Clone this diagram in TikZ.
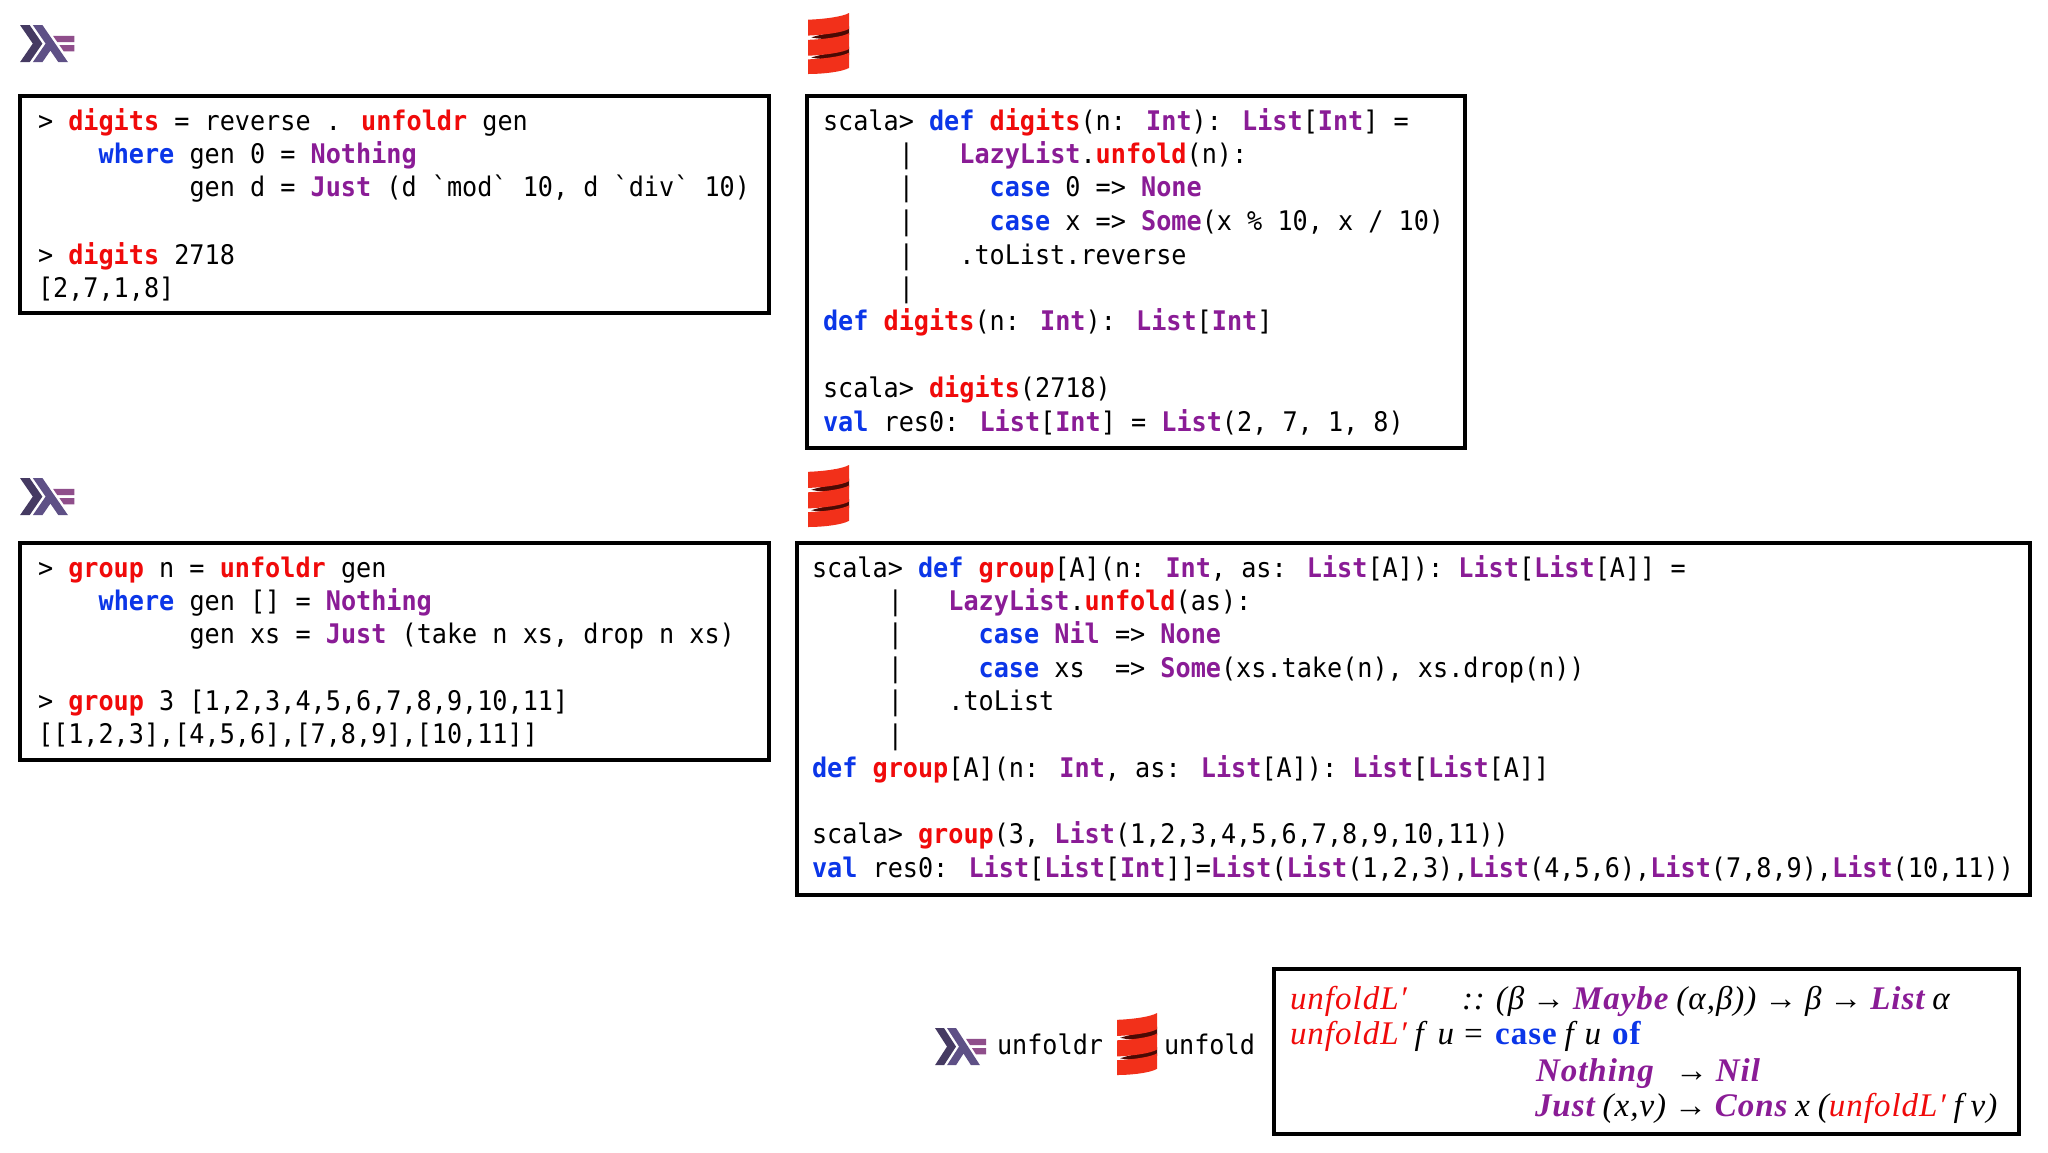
\documentclass[tikz,border=0pt]{standalone}
\usepackage{fontspec}
\usepackage{xcolor}
\newfontfamily\codefont[FakeStretch=0.932]{DejaVu Sans Mono}
\newfontfamily\mathserif[LetterSpace=3,WordSpace=0.85]{Liberation Serif}
\definecolor{fnred}{HTML}{F00A0A}
\definecolor{kwblue}{HTML}{0B36E8}
\definecolor{typurple}{HTML}{8A1C96}
\definecolor{hdark}{HTML}{453A62}
\definecolor{hmid}{HTML}{5E5086}
\definecolor{hlight}{HTML}{8F4E8B}
\definecolor{sred}{HTML}{F2301A}
\definecolor{sdark}{HTML}{4A0A04}
\newcommand{\fn}[1]{\textcolor{fnred}{\bfseries #1}}
\newcommand{\kw}[1]{\textcolor{kwblue}{\bfseries #1}}
\newcommand{\ty}[1]{\textcolor{typurple}{\bfseries #1}}
\newcommand{\mfn}[1]{\textcolor{fnred}{\itshape #1}}
\newcommand{\mkw}[1]{\textcolor{kwblue}{\bfseries\upshape #1}}
\newcommand{\mty}[1]{\textcolor{typurple}{\bfseries\itshape #1}}
\tikzset{
  codebox/.style={draw=black,line width=3.5pt,fill=white,anchor=north west,inner sep=0pt,outer sep=0pt},
  code/.style={anchor=base west,inner sep=0pt,outer sep=0pt,font=\codefont\fontsize{27}{33}\selectfont,text=black},
  mline/.style={anchor=base west,inner sep=0pt,outer sep=0pt,font=\mathserif\itshape\fontsize{33}{36}\selectfont,text=black},
  hask/.pic={
    \fill[hdark] (0,12)--(4,6)--(0,0)--(3,0)--(7,6)--(3,12)--cycle;
    \fill[hmid] (4,12)--(8,6)--(4,0)--(7,0)--(15,12)--(12,12)--(9.5,8.25)--(7,12)--cycle;
    \fill[hlight] (13.667,8.5)--(12.333,6.5)--(17,6.5)--(17,8.5)--cycle;
    \fill[hlight] (11.667,5.5)--(10.333,3.5)--(17,3.5)--(17,5.5)--cycle;
  },
  scal/.pic={
    \fill[sdark] (0.08,.40) .. controls (.4,.33) and (.85,.30) .. (1,.22) -- (1,.36) .. controls (.85,.42) and (.4,.45) .. (0.08,.40) -- cycle;
    \fill[sdark] (0.08,.73) .. controls (.4,.66) and (.85,.63) .. (1,.55) -- (1,.69) .. controls (.85,.75) and (.4,.78) .. (0.08,.73) -- cycle;
    \fill[sred] (0,.11) .. controls (.4,.10) and (.85,.06) .. (1,0) -- (1,.26) .. controls (.85,.32) and (.4,.36) .. (0,.37) -- cycle;
    \fill[sred] (0,.44) .. controls (.4,.43) and (.85,.39) .. (1,.33) -- (1,.59) .. controls (.85,.65) and (.4,.69) .. (0,.70) -- cycle;
    \fill[sred] (0,.76) .. controls (.4,.75) and (.85,.71) .. (1,.65) -- (1,.90) .. controls (.85,.96) and (.4,1) .. (0,1) -- cycle;
  }
}
\begin{document}
\begin{tikzpicture}[x=1pt,y=-1pt]
\useasboundingbox (0,0) rectangle (2048,1152);
\fill[white] (0,0) rectangle (2048,1152);
% logos
\pic[xscale=3.2,yscale=3.1] at (20,25) {hask};
\pic[xscale=41,yscale=61] at (808,13) {scal};
\pic[xscale=3.2,yscale=3.1] at (20,478) {hask};
\pic[xscale=41,yscale=62] at (808,465) {scal};
\pic[xscale=3,yscale=3.1] at (935,1028) {hask};
\pic[xscale=40,yscale=62] at (1117,1013) {scal};
% boxes
\node[codebox,minimum width=749pt,minimum height=217pt] (b1) at (20,96) {};
\node[codebox,minimum width=658pt,minimum height=352pt] (b2) at (807,96) {};
\node[codebox,minimum width=749pt,minimum height=217pt] (b3) at (20,543) {};
\node[codebox,minimum width=1233pt,minimum height=352pt] (b4) at (797,543) {};
\node[codebox,minimum width=745pt,minimum height=165pt] (b5) at (1274,969) {};
% box 1
\node[code] (a1) at (38,130) {> \fn{digits} = reverse . \fn{unfoldr} gen};
\node[code] (a2) at (38,163) {~~~~\kw{where} gen 0 = \ty{Nothing}};
\node[code] (a3) at (38,196) {~~~~~~~~~~gen d = \ty{Just} (d `mod` 10, d `div` 10)};
\node[code] (a4) at (38,264) {> \fn{digits} 2718};
\node[code] (a5) at (38,297) {[2,7,1,8]};
% box 2
\node[code] (c1) at (823,130) {scala> \kw{def} \fn{digits}(n: \ty{Int}): \ty{List}[\ty{Int}] =};
\node[code] (c2) at (823,163) {~~~~~|~~~\ty{LazyList}.\fn{unfold}(n):};
\node[code] (c3) at (823,196) {~~~~~|~~~~~\kw{case} 0 => \ty{None}};
\node[code] (c4) at (823,230) {~~~~~|~~~~~\kw{case} x => \ty{Some}(x \% 10, x / 10)};
\node[code] (c5) at (823,264) {~~~~~|~~~.toList.reverse};
\node[code] (c6) at (823,297) {~~~~~|};
\node[code] (c7) at (823,330) {\kw{def} \fn{digits}(n: \ty{Int}): \ty{List}[\ty{Int}]};
\node[code] (c8) at (823,397) {scala> \fn{digits}(2718)};
\node[code] (c9) at (823,431) {\kw{val} res0: \ty{List}[\ty{Int}] = \ty{List}(2, 7, 1, 8)};
% box 3
\node[code] (d1) at (38,577) {> \fn{group} n = \fn{unfoldr} gen};
\node[code] (d2) at (38,610) {~~~~\kw{where} gen [] = \ty{Nothing}};
\node[code] (d3) at (38,643) {~~~~~~~~~~gen xs = \ty{Just} (take n xs, drop n xs)};
\node[code] (d4) at (38,710) {> \fn{group} 3 [1,2,3,4,5,6,7,8,9,10,11]};
\node[code] (d5) at (38,743) {[[1,2,3],[4,5,6],[7,8,9],[10,11]]};
% box 4
\node[code] (e1) at (812,577) {scala> \kw{def} \fn{group}[A](n: \ty{Int}, as: \ty{List}[A]): \ty{List}[\ty{List}[A]] =};
\node[code] (e2) at (812,610) {~~~~~|~~~\ty{LazyList}.\fn{unfold}(as):};
\node[code] (e3) at (812,643) {~~~~~|~~~~~\kw{case} \ty{Nil} => \ty{None}};
\node[code] (e4) at (812,677) {~~~~~|~~~~~\kw{case} xs~~=> \ty{Some}(xs.take(n), xs.drop(n))};
\node[code] (e5) at (812,710) {~~~~~|~~~.toList};
\node[code] (e6) at (812,744) {~~~~~|};
\node[code] (e7) at (812,777) {\kw{def} \fn{group}[A](n: \ty{Int}, as: \ty{List}[A]): \ty{List}[\ty{List}[A]]};
\node[code] (e8) at (812,843) {scala> \fn{group}(3, \ty{List}(1,2,3,4,5,6,7,8,9,10,11))};
\node[code] (e9) at (812,877) {\kw{val} res0: \ty{List}[\ty{List}[\ty{Int}]]=\ty{List}(\ty{List}(1,2,3),\ty{List}(4,5,6),\ty{List}(7,8,9),\ty{List}(10,11))};
% bottom labels
\node[code] (u1) at (997,1054) {unfoldr};
\node[code] (u2) at (1164,1054) {unfold};
% box 5
\node[mline] (f1) at (1290,1009) {\mfn{unfoldL′}};
\node[mline] (f1b) at (1462,1009) {:: (β → \mty{Maybe} (α,β)) → β → \mty{List} α};
\node[mline] (f2) at (1290,1044) {\mfn{unfoldL′} f\hspace{6pt} u = \hspace{3pt}\mkw{case} f\hspace{3pt} u\hspace{3pt} \mkw{of}};
\node[mline] (f3) at (1536,1081) {\mty{Nothing}};
\node[mline] (f3b) at (1675,1081) {→ \mty{Nil}};
\node[mline] (f4) at (1535,1116) {\mty{Just} (x,v) → \mty{Cons} x (\mfn{unfoldL′} f v)};
\end{tikzpicture}
\end{document}
